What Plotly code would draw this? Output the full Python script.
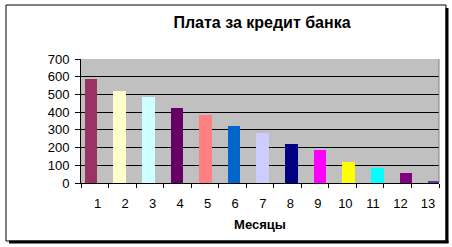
import plotly.graph_objects as go

months = list(range(1, 14))
month_labels = [str(m) for m in months]
payments = [586, 520, 487, 425, 384, 321, 284, 220, 185, 119, 85, 56, 13]
colors = ["#993366", "#FFFFCC", "#CCFFFF", "#660066", "#FF8080", "#0066CC",
          "#CCCCFF", "#000080", "#FF00FF", "#FFFF00", "#00FFFF", "#800080", "#663399"]
y_ticks = [0, 100, 200, 300, 400, 500, 600, 700]

W, H = 452, 247
ML, MR, MT, MB = 81, 13, 59, 64
PW, PH = W - ML - MR, H - MT - MB

# Excel-style clustered offset: bars drift slightly right across categories
bar_x = [m - 0.14 + (m - 1) * 0.04 for m in months]

fig = go.Figure()
fig.add_trace(go.Bar(
    x=bar_x, y=payments, width=0.46,
    marker=dict(color=colors, line=dict(width=0)),
    showlegend=False, hoverinfo="skip",
))

def px_x(p):
    return (p - ML) / PW

def px_y(p):
    return (H - MB - p) / PH

shapes = [
    dict(type="rect", xref="paper", yref="paper",
         x0=px_x(6), x1=px_x(446), y0=px_y(241), y1=px_y(5),
         line=dict(color="black", width=1), layer="below"),
    dict(type="line", xref="paper", yref="paper",
         x0=px_x(447), x1=px_x(447), y0=px_y(243), y1=px_y(8),
         line=dict(color="black", width=3)),
    dict(type="line", xref="paper", yref="paper",
         x0=px_x(9), x1=px_x(448.5), y0=px_y(242), y1=px_y(242),
         line=dict(color="black", width=3)),
    dict(type="line", xref="paper", yref="paper",
         x0=1, x1=1, y0=0, y1=1,
         line=dict(color="#808080", width=1)),
]

fig.update_layout(
    width=W, height=H,
    margin=dict(l=ML, r=MR, t=MT, b=MB),
    paper_bgcolor="white",
    plot_bgcolor="#C0C0C0",
    font=dict(family="Liberation Sans, Arial, sans-serif", size=13, color="black"),
    title=dict(text="<b>Плата за кредит банка</b>", x=262 / W, xanchor="center",
               y=1 - 22 / H, yanchor="middle", font=dict(size=16)),
    shapes=shapes,
    bargap=0,
)
fig.update_xaxes(
    range=[0.5, 13.5],
    tickvals=[m + 0.1 for m in months], ticktext=month_labels,
    ticks="", ticklabelstandoff=8, tickfont=dict(size=13),
    showgrid=False, zeroline=False,
    showline=True, linecolor="black", linewidth=1,
    minor=dict(tickvals=[m - 0.5 for m in months] + [13.5], ticks="outside",
               ticklen=4, tickcolor="black", showgrid=False),
    title=dict(text="<b>Месяцы</b>", standoff=10, font=dict(size=13)),
    fixedrange=True,
)
fig.update_yaxes(
    range=[0, 700], tickvals=y_ticks,
    ticks="outside", ticklen=5, tickcolor="black",
    showgrid=True, gridcolor="black", gridwidth=1,
    zeroline=False,
    showline=True, linecolor="black", linewidth=1,
    tickfont=dict(size=13), ticklabelstandoff=3,
    fixedrange=True,
)

fig.write_html("out.html")
